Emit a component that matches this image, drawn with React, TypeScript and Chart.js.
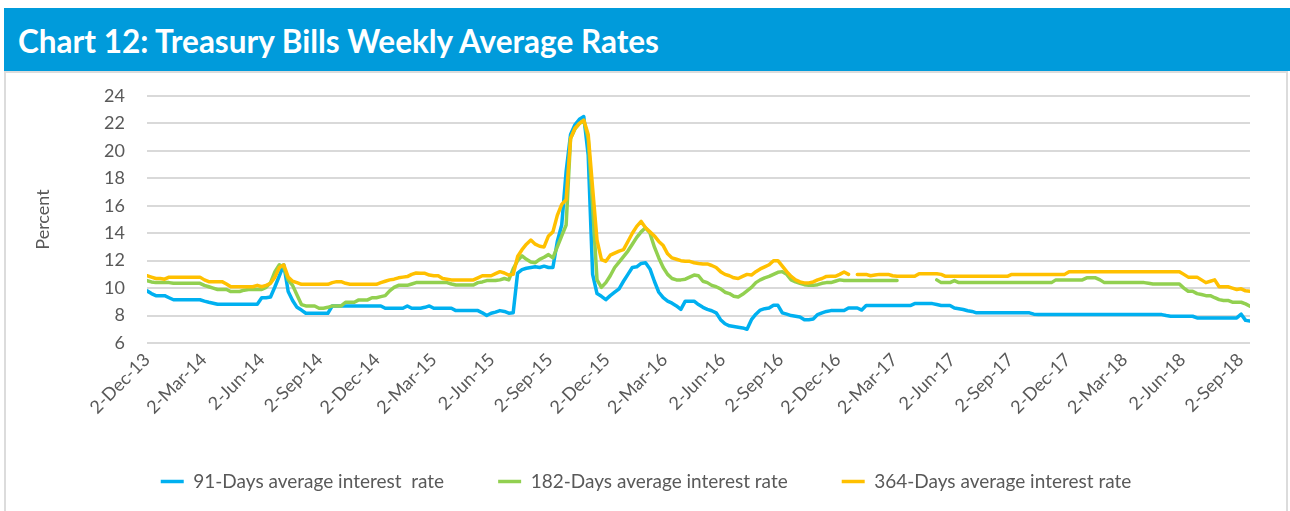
import React, { useEffect, useRef } from 'react';
import { Chart, registerables } from 'chart.js';

Chart.register(...registerables);

// Weekly observations starting on this date (one value per week)
const startDate = '2-Dec-13';

const xTickLabels = [
  '2-Dec-13', '2-Mar-14', '2-Jun-14', '2-Sep-14', '2-Dec-14', '2-Mar-15', '2-Jun-15',
  '2-Sep-15', '2-Dec-15', '2-Mar-16', '2-Jun-16', '2-Sep-16', '2-Dec-16', '2-Mar-17',
  '2-Jun-17', '2-Sep-17', '2-Dec-17', '2-Mar-18', '2-Jun-18', '2-Sep-18',
];

const seriesNames = [
  '91-Days average interest  rate',
  '182-Days average interest rate',
  '364-Days average interest rate',
];

const yMin = 6;
const yMax = 24;
const yStep = 2;

const rate91: (number | null)[] = [
  9.8, 9.6, 9.45, 9.45, 9.45, 9.3, 9.15, 9.15, 9.15, 9.15,
  9.15, 9.15, 9.15, 9.05, 8.97, 8.9, 8.82, 8.82, 8.82, 8.82,
  8.82, 8.82, 8.82, 8.82, 8.82, 8.82, 9.3, 9.3, 9.35, 10.1,
  10.9, 11.7, 9.75, 9.1, 8.6, 8.4, 8.17, 8.17, 8.17, 8.17,
  8.17, 8.17, 8.7, 8.7, 8.7, 8.7, 8.7, 8.7, 8.7, 8.7,
  8.7, 8.7, 8.7, 8.7, 8.53, 8.53, 8.53, 8.53, 8.53, 8.7,
  8.53, 8.53, 8.53, 8.6, 8.7, 8.53, 8.53, 8.53, 8.53, 8.53,
  8.36, 8.36, 8.36, 8.36, 8.36, 8.36, 8.2, 8.0, 8.17, 8.25,
  8.36, 8.3, 8.17, 8.2, 11.1, 11.35, 11.45, 11.5, 11.55, 11.5,
  11.6, 11.5, 11.5, 13.4, 14.6, 18.5, 21.2, 21.9, 22.3, 22.5,
  19.7, 11.0, 9.6, 9.4, 9.16, 9.45, 9.7, 9.95, 10.5, 11.0,
  11.5, 11.55, 11.8, 11.85, 11.4, 10.5, 9.7, 9.3, 9.05, 8.9,
  8.7, 8.45, 9.05, 9.05, 9.05, 8.8, 8.6, 8.45, 8.35, 8.2,
  7.7, 7.4, 7.25, 7.2, 7.15, 7.1, 7.0, 7.7, 8.1, 8.4,
  8.5, 8.55, 8.75, 8.75, 8.2, 8.1, 8.0, 7.95, 7.9, 7.7,
  7.7, 7.75, 8.07, 8.2, 8.3, 8.36, 8.36, 8.36, 8.36, 8.55,
  8.55, 8.55, 8.4, 8.73, 8.73, 8.73, 8.73, 8.73, 8.73, 8.73,
  8.73, 8.73, 8.73, 8.73, 8.87, 8.87, 8.87, 8.87, 8.87, 8.8,
  8.73, 8.73, 8.73, 8.55, 8.5, 8.44, 8.35, 8.3, 8.2, 8.2,
  8.2, 8.2, 8.2, 8.2, 8.2, 8.2, 8.2, 8.2, 8.2, 8.2,
  8.2, 8.1, 8.07, 8.07, 8.07, 8.07, 8.07, 8.07, 8.07, 8.07,
  8.07, 8.07, 8.07, 8.07, 8.07, 8.07, 8.07, 8.07, 8.07, 8.07,
  8.07, 8.07, 8.07, 8.07, 8.07, 8.07, 8.07, 8.07, 8.07, 8.07,
  8.07, 8.0, 7.95, 7.95, 7.95, 7.95, 7.95, 7.95, 7.83, 7.83,
  7.83, 7.83, 7.83, 7.83, 7.83, 7.83, 7.83, 7.83, 8.1, 7.65,
  7.6,
];

const rate182: (number | null)[] = [
  10.55, 10.45, 10.4, 10.4, 10.4, 10.4, 10.35, 10.35, 10.35, 10.35,
  10.35, 10.35, 10.35, 10.2, 10.1, 10.0, 9.9, 9.9, 9.9, 9.75,
  9.75, 9.75, 9.85, 9.9, 9.9, 9.9, 9.9, 10.05, 10.4, 11.2,
  11.7, 11.5, 10.6, 10.2, 9.5, 8.8, 8.7, 8.7, 8.7, 8.53,
  8.53, 8.6, 8.7, 8.7, 8.7, 8.97, 8.97, 8.97, 9.14, 9.14,
  9.14, 9.3, 9.3, 9.38, 9.45, 9.8, 10.05, 10.2, 10.2, 10.2,
  10.3, 10.4, 10.4, 10.4, 10.4, 10.4, 10.4, 10.4, 10.4, 10.3,
  10.23, 10.23, 10.23, 10.23, 10.23, 10.4, 10.45, 10.55, 10.55, 10.55,
  10.6, 10.7, 10.6, 11.4, 12.0, 12.35, 12.1, 11.9, 11.85, 12.1,
  12.25, 12.44, 12.2, 13.0, 13.8, 14.6, 20.9, 21.6, 22.0, 22.2,
  20.9, 16.0, 10.6, 10.06, 10.4, 10.9, 11.5, 11.9, 12.3, 12.7,
  13.2, 13.7, 14.1, 14.4, 14.0, 13.0, 12.2, 11.5, 11.0, 10.7,
  10.6, 10.6, 10.65, 10.8, 10.95, 10.9, 10.5, 10.4, 10.2, 10.1,
  9.95, 9.7, 9.6, 9.4, 9.35, 9.55, 9.8, 10.05, 10.4, 10.6,
  10.75, 10.85, 11.0, 11.15, 11.2, 11.0, 10.6, 10.45, 10.35, 10.25,
  10.2, 10.2, 10.25, 10.35, 10.4, 10.4, 10.5, 10.6, 10.55, 10.55,
  10.55, 10.55, 10.55, 10.55, 10.55, 10.55, 10.55, 10.55, 10.55, 10.55,
  10.55, null, null, null, null, null, null, null, null, 10.6,
  10.4, 10.4, 10.4, 10.55, 10.4, 10.4, 10.4, 10.4, 10.4, 10.4,
  10.4, 10.4, 10.4, 10.4, 10.4, 10.4, 10.4, 10.4, 10.4, 10.4,
  10.4, 10.4, 10.4, 10.4, 10.4, 10.4, 10.6, 10.6, 10.6, 10.6,
  10.6, 10.6, 10.6, 10.75, 10.75, 10.75, 10.6, 10.4, 10.4, 10.4,
  10.4, 10.4, 10.4, 10.4, 10.4, 10.4, 10.4, 10.35, 10.3, 10.3,
  10.3, 10.3, 10.3, 10.3, 10.3, 10.0, 9.77, 9.77, 9.6, 9.53,
  9.45, 9.45, 9.3, 9.16, 9.1, 9.1, 8.97, 8.97, 8.97, 8.85,
  8.68,
];

const rate364: (number | null)[] = [
  10.9, 10.8, 10.7, 10.7, 10.65, 10.8, 10.8, 10.8, 10.8, 10.8,
  10.8, 10.8, 10.8, 10.6, 10.47, 10.47, 10.47, 10.47, 10.3, 10.1,
  10.1, 10.1, 10.1, 10.1, 10.1, 10.2, 10.1, 10.2, 10.35, 10.8,
  11.5, 11.7, 10.8, 10.5, 10.4, 10.28, 10.28, 10.28, 10.28, 10.28,
  10.28, 10.28, 10.4, 10.47, 10.47, 10.35, 10.28, 10.28, 10.28, 10.28,
  10.28, 10.28, 10.28, 10.4, 10.5, 10.6, 10.65, 10.75, 10.8, 10.84,
  11.0, 11.1, 11.08, 11.08, 10.95, 10.9, 10.9, 10.7, 10.65, 10.6,
  10.6, 10.6, 10.6, 10.6, 10.6, 10.75, 10.9, 10.9, 10.9, 11.05,
  11.2, 11.1, 10.95, 11.0, 12.3, 12.8, 13.2, 13.5, 13.2, 13.05,
  13.0, 13.8, 14.1, 15.3, 16.1, 16.45, 20.9, 21.65, 22.0, 22.25,
  21.2, 17.3, 13.5, 12.07, 11.95, 12.4, 12.55, 12.7, 12.8, 13.4,
  14.0, 14.5, 14.86, 14.4, 14.1, 13.8, 13.4, 13.1, 12.5, 12.2,
  12.1, 12.0, 11.95, 11.95, 11.85, 11.8, 11.76, 11.76, 11.65, 11.5,
  11.2, 11.0, 10.9, 10.75, 10.7, 10.85, 11.0, 10.95, 11.2, 11.4,
  11.55, 11.7, 12.0, 12.0, 11.6, 11.2, 10.85, 10.6, 10.45, 10.38,
  10.38, 10.45, 10.6, 10.7, 10.85, 10.86, 10.86, 11.0, 11.17, 11.0,
  null, 11.0, 11.0, 11.0, 10.9, 10.95, 11.0, 11.0, 11.0, 10.9,
  10.86, 10.86, 10.86, 10.86, 10.86, 11.05, 11.05, 11.05, 11.05, 11.05,
  11.0, 10.86, 10.86, 10.86, 10.86, 10.86, 10.86, 10.86, 10.86, 10.86,
  10.86, 10.86, 10.86, 10.86, 10.86, 10.86, 11.0, 11.0, 11.0, 11.0,
  11.0, 11.0, 11.0, 11.0, 11.0, 11.0, 11.0, 11.0, 11.0, 11.2,
  11.2, 11.2, 11.2, 11.2, 11.2, 11.2, 11.2, 11.2, 11.2, 11.2,
  11.2, 11.2, 11.2, 11.2, 11.2, 11.2, 11.2, 11.2, 11.2, 11.2,
  11.2, 11.2, 11.2, 11.2, 11.2, 11.0, 10.8, 10.8, 10.8, 10.6,
  10.4, 10.5, 10.6, 10.1, 10.1, 10.1, 10.0, 9.9, 9.95, 9.8,
  9.77,
];

const seriesColors = ['#00B0F0', '#92D050', '#FFC000'];
const textColor = '#595959';
const fontFamily = 'Lato, "DejaVu Sans", sans-serif';

const MONTHS: Record<string, number> = {
  Jan: 0, Feb: 1, Mar: 2, Apr: 3, May: 4, Jun: 5,
  Jul: 6, Aug: 7, Sep: 8, Oct: 9, Nov: 10, Dec: 11,
};

function labelToUtc(label: string): number {
  const [d, m, y] = label.split('-');
  return Date.UTC(2000 + parseInt(y, 10), MONTHS[m], parseInt(d, 10));
}

const DAY = 86400000;
const origin = labelToUtc(startDate);
const dayOf = (label: string) => Math.round((labelToUtc(label) - origin) / DAY);

export default function App() {
  const ref = useRef<HTMLCanvasElement>(null);

  useEffect(() => {
    document.body.style.margin = '0';
    const canvas = ref.current;
    if (!canvas) return;

    const tickDays = xTickLabels.map(dayOf);
    const tickMap = new Map<number, string>();
    tickDays.forEach((d, i) => tickMap.set(d, xTickLabels[i]));

    const toPoints = (arr: (number | null)[]) => arr.map((v, i) => ({ x: i * 7, y: v }));
    const lastDay = (rate91.length - 1) * 7;
    const allSeries = [rate91, rate182, rate364];
    const orders = [2, 1, 0];

    const tickFont = { family: fontFamily, size: 18 };
    const legendFont = { family: fontFamily, size: 19 };

    const chart = new Chart(canvas, {
      type: 'line',
      data: {
        datasets: allSeries.map((s, k) => ({
          label: seriesNames[k],
          data: toPoints(s),
          borderColor: seriesColors[k],
          backgroundColor: seriesColors[k],
          borderWidth: 3.5,
          pointRadius: 0,
          pointHoverRadius: 0,
          tension: 0,
          spanGaps: false,
          borderJoinStyle: 'round',
          borderCapStyle: 'round',
          order: orders[k],
        })) as any,
      },
      options: {
        animation: false,
        responsive: false,
        maintainAspectRatio: false,
        layout: { padding: { top: 22, left: 0, right: 0, bottom: 10 } },
        scales: {
          x: {
            type: 'linear',
            min: 0,
            max: lastDay,
            afterBuildTicks: (s: any) => {
              s.ticks = tickDays.map((v) => ({ value: v }));
            },
            afterFit: (s: any) => {
              s.height = 75;
            },
            grid: { display: false, drawTicks: false },
            border: { display: false },
            ticks: {
              autoSkip: false,
              minRotation: 45,
              maxRotation: 45,
              padding: 6,
              color: textColor,
              font: tickFont,
              callback: (v: any) => tickMap.get(Number(v)) ?? '',
            },
          },
          y: {
            type: 'linear',
            min: yMin,
            max: yMax,
            afterFit: (s: any) => {
              s.width = 141;
            },
            grid: {
              color: '#d9d9d9',
              lineWidth: 2,
              drawTicks: true,
              tickLength: 22,
              tickColor: 'rgba(0,0,0,0)',
            },
            border: { display: false },
            ticks: { stepSize: yStep, padding: 0, color: textColor, font: tickFont },
            title: {
              display: true,
              text: 'Percent',
              color: textColor,
              font: tickFont,
              padding: { top: 26, bottom: 0 },
            },
          },
          yR: {
            type: 'linear',
            position: 'right',
            display: true,
            afterFit: (s: any) => {
              s.width = 36;
            },
            grid: { display: false, drawTicks: false },
            border: { display: false },
            ticks: { display: false },
          },
        },
        plugins: {
          legend: {
            position: 'bottom',
            labels: {
              usePointStyle: true,
              pointStyle: 'line',
              pointStyleWidth: 23,
              padding: 54,
              color: textColor,
              font: legendFont,
              sort: (a: any, b: any) => a.datasetIndex - b.datasetIndex,
            },
          },
          tooltip: { enabled: false },
          title: { display: false },
        },
      } as any,
    });

    return () => chart.destroy();
  }, []);

  return (
    <div style={{ position: 'relative', width: 1290, height: 511, overflow: 'hidden', background: '#ffffff' }}>
      <div
        style={{
          position: 'absolute',
          left: 4,
          top: 8,
          width: 1286,
          height: 63,
          background: '#009BDB',
          color: '#ffffff',
          fontFamily,
          fontWeight: 700,
          fontSize: 31.5,
          lineHeight: '66px',
          paddingLeft: 14,
          boxSizing: 'border-box',
          whiteSpace: 'nowrap',
        }}
      >
        Chart 12: Treasury Bills Weekly Average Rates
      </div>
      <div
        style={{
          position: 'absolute',
          left: 4,
          top: 71,
          width: 1284,
          height: 460,
          border: '2px solid #dcdcdc',
          boxSizing: 'border-box',
        }}
      />
      <canvas ref={ref} width={1280} height={437} style={{ position: 'absolute', left: 6, top: 74 }} />
    </div>
  );
}
